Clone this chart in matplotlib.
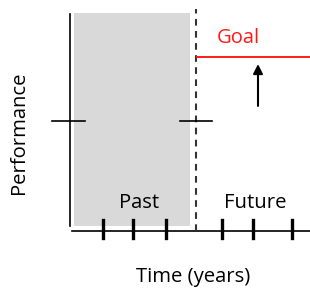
import matplotlib.pyplot as plt

# schematic values (time in years, performance in arbitrary units)
past_ticks = [1.0, 1.97, 3.03]
future_ticks = [4.84, 5.84, 7.1]
now = 4.0
past_start = 0.065
current_perf = 5.1
goal_perf = 8.06
arrow_from = 5.79
arrow_to = 7.73
perf_top = 10.05
labels = ["Past", "Future"]

plt.rcParams["font.family"] = ["Open Sans", "DejaVu Sans"]
FS = 14.6

fig = plt.figure(figsize=(3.1, 2.88), dpi=100)
ax = fig.add_axes([0, 0, 1, 1])
ax.set_xlim(-72 / 31, 238 / 31)
ax.set_ylim(-57 / 21.6, 231 / 21.6)
ax.axis("off")

# shaded past region
ax.axvspan(past_start, now - 0.19, ymin=(57 + 5) / 288, ymax=(57 + 218) / 288,
           color="#d9d9d9", lw=0, zorder=0)

# axes drawn by hand
ax.plot([-0.065, -0.065], [0.23, perf_top], color="black", lw=1.2)
ax.plot([0, 7.7], [0, 0], color="black", lw=1.2)

# year ticks
for t in past_ticks + future_ticks:
    ax.plot([t, t], [-0.32, 0.51], color="black", lw=2.4)

# "now" divider
ax.plot([now, now], [0, 10.28], color="#333333", lw=1.5, ls=(0, (3.2, 2.6)))

# current performance marks
ax.plot([-0.65, 0.42], [current_perf, current_perf], color="black", lw=1.2)
ax.plot([now - 0.52, now + 0.52], [current_perf, current_perf], color="black", lw=1.2)

# goal line and label
ax.plot([now + 0.03, 7.7], [goal_perf, goal_perf], color="#ff1a1a", lw=1.4)
ax.text(5.355, 8.72, "Goal", color="#ff1a1a", fontsize=FS, ha="center", va="baseline")

ax.annotate("", xy=(6.0, arrow_to), xytext=(6.0, arrow_from),
            arrowprops=dict(arrowstyle="-|>", color="black", lw=1.5,
                            mutation_scale=14, shrinkA=0, shrinkB=0))

ax.text(2.155, 1.08, labels[0], fontsize=FS, ha="center", va="baseline")
ax.text(5.92, 1.08, labels[1], fontsize=FS, ha="center", va="baseline")

ax.text(-1.548, 4.537, "Performance", fontsize=FS, rotation=90, rotation_mode="anchor",
        ha="center", va="baseline")
ax.text(3.9, -2.35, "Time (years)", fontsize=FS, ha="center", va="baseline")

fig.savefig("out.png", dpi=100)
